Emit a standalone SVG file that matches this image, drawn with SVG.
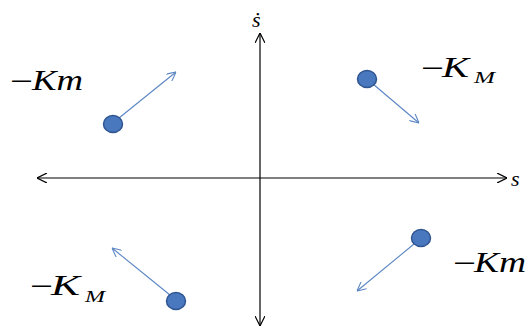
<svg xmlns="http://www.w3.org/2000/svg" width="529" height="331" viewBox="0 0 529 331">
<defs>
<marker id="ax" viewBox="0 0 10 10" refX="10" refY="5" markerWidth="10" markerHeight="10" markerUnits="userSpaceOnUse" orient="auto-start-reverse">
<path d="M0,0 L10,5 L0,10" fill="none" stroke="#000" stroke-width="1.2"/>
</marker>
<marker id="bl" viewBox="0 0 10 10" refX="10" refY="5" markerWidth="9" markerHeight="9" markerUnits="userSpaceOnUse" orient="auto">
<path d="M0,0 L10,5 L0,10" fill="none" stroke="#5b86c4" stroke-width="1.2"/>
</marker>
</defs>
<style>
.axis{stroke:#000;stroke-width:1.2;fill:none}
.vec{stroke:#5b86c4;stroke-width:1.1;fill:none}
.dot{fill:#4a78bf;stroke:#2f5590;stroke-width:1.5}
.t{font-family:"Liberation Serif","DejaVu Serif",serif;font-style:italic;fill:#000}
.m{font-family:"Liberation Serif","DejaVu Serif",serif;font-style:normal;fill:#000}
</style>
<rect width="529" height="331" fill="#fff"/>
<g id="connectors">
<line class="axis" x1="37" y1="178" x2="507" y2="178" marker-start="url(#ax)" marker-end="url(#ax)"/>
<line class="axis" x1="260" y1="326" x2="260" y2="33" marker-start="url(#ax)" marker-end="url(#ax)"/>
<line class="vec" x1="119" y1="118" x2="176" y2="72" marker-end="url(#bl)"/>
<line class="vec" x1="373" y1="84" x2="419" y2="123" marker-end="url(#bl)"/>
<line class="vec" x1="414" y1="244" x2="357" y2="291" marker-end="url(#bl)"/>
<line class="vec" x1="170" y1="295" x2="112" y2="248" marker-end="url(#bl)"/>
</g>
<g id="p1"><ellipse class="dot" cx="113" cy="124" rx="9.5" ry="8.5"/></g>
<g id="p2"><ellipse class="dot" cx="367" cy="79" rx="9.5" ry="8.5"/></g>
<g id="p3"><ellipse class="dot" cx="421" cy="238" rx="9.5" ry="8.5"/></g>
<g id="p4"><ellipse class="dot" cx="176" cy="301" rx="9.5" ry="8.5"/></g>
<g id="labels">
<text class="m" x="10" y="90" font-size="27" textLength="23" lengthAdjust="spacingAndGlyphs">−</text>
<text class="t" x="32" y="90" font-size="30" textLength="51" lengthAdjust="spacingAndGlyphs">Km</text>
<text class="m" x="421" y="77" font-size="27" textLength="23" lengthAdjust="spacingAndGlyphs">−</text>
<text class="t" x="442" y="77" font-size="30" textLength="27" lengthAdjust="spacingAndGlyphs">K</text>
<text class="t" x="474" y="83" font-size="17" textLength="21" lengthAdjust="spacingAndGlyphs">M</text>
<text class="m" x="30" y="295" font-size="27" textLength="23" lengthAdjust="spacingAndGlyphs">−</text>
<text class="t" x="51" y="295" font-size="30" textLength="29" lengthAdjust="spacingAndGlyphs">K</text>
<text class="t" x="85" y="302" font-size="17" textLength="20" lengthAdjust="spacingAndGlyphs">M</text>
<text class="m" x="453" y="272" font-size="27" textLength="23" lengthAdjust="spacingAndGlyphs">−</text>
<text class="t" x="474" y="272" font-size="30" textLength="52" lengthAdjust="spacingAndGlyphs">Km</text>
<text class="t" x="511" y="186" font-size="22">s</text>
<text class="t" x="252" y="27" font-size="22">ṡ</text>
</g>
</svg>
